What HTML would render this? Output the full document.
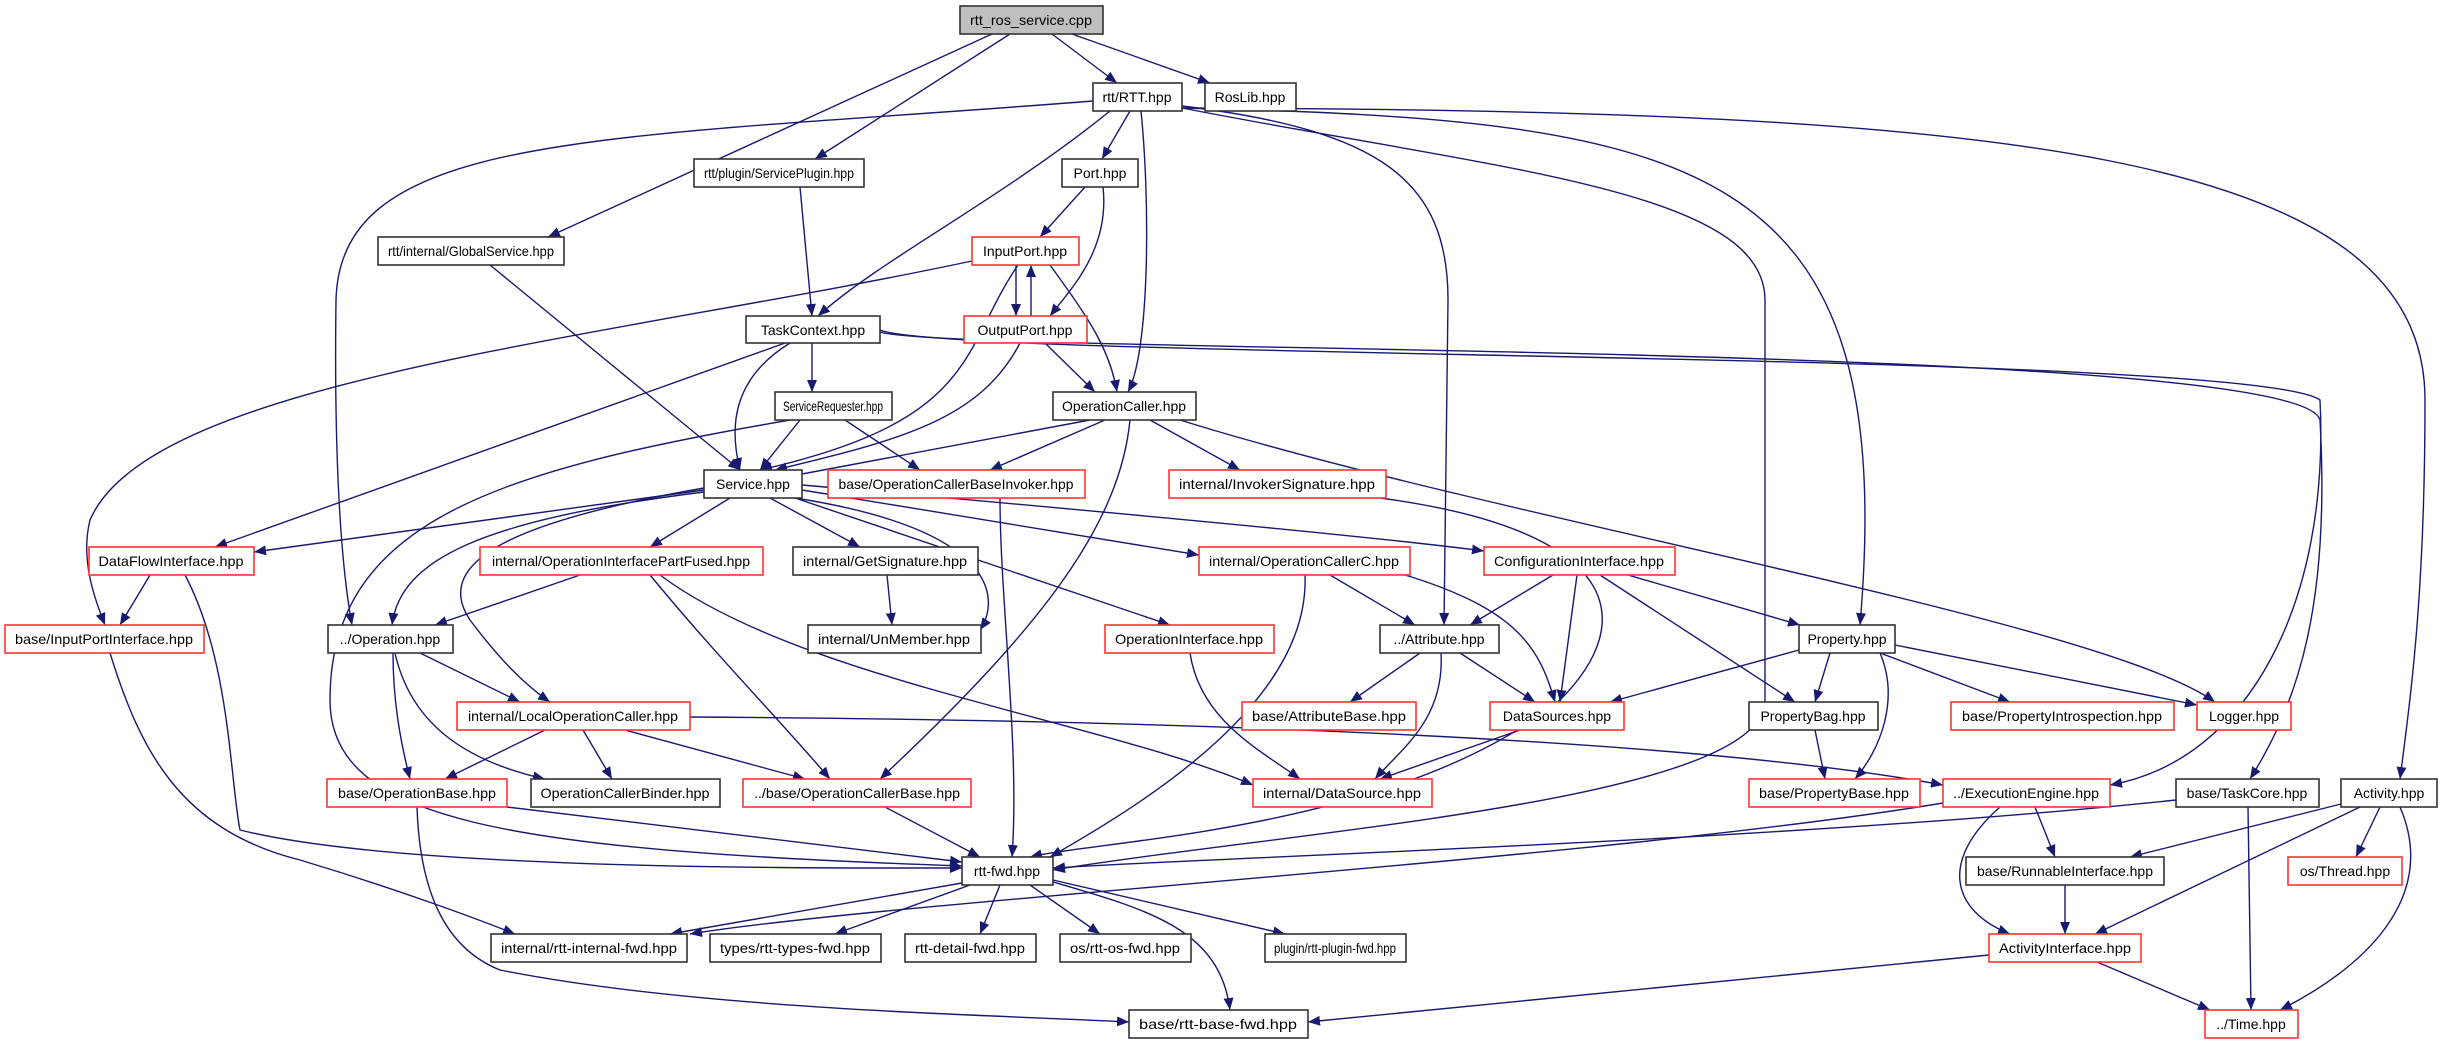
<!DOCTYPE html>
<html><head><meta charset="utf-8"><style>
html,body{margin:0;padding:0;background:#fff}
svg{display:block}
text{font-family:"Liberation Sans","DejaVu Sans",sans-serif;font-size:14px;fill:#000}
.e{fill:none;stroke:#191970;stroke-width:1.4}
.b{fill:#fff;stroke:#333;stroke-width:1.6}
.r{fill:#fff;stroke:#f33;stroke-width:1.6}
</style></head><body>
<svg width="2441" height="1045" viewBox="0 0 2441 1045" xmlns="http://www.w3.org/2000/svg">
<defs><marker id="a" markerUnits="userSpaceOnUse" markerWidth="12" markerHeight="10" refX="12" refY="5" orient="auto"><path d="M0,0 L12,5 L0,10 z" fill="#191970"/></marker></defs>
<g class="e" marker-end="url(#a)">
<path d="M992 34 L548 237"/>
<path d="M1010 34 L815 159"/>
<path d="M1052 34 L1117 83"/>
<path d="M1072 34 L1210 83"/>
<path d="M1093 101 C600 140 340 130 336 300 C334 450 340 560 352 625"/>
<path d="M1110 111 C1000 200 880 260 818 316"/>
<path d="M1130 111 L1102 159"/>
<path d="M1141 111 C1150 200 1150 350 1128 392"/>
<path d="M1182 106 C1380 130 1448 180 1448 300 L1444 625"/>
<path d="M1182 108 C1500 170 1765 190 1765 300 L1765 700 C1765 800 1300 830 1053 870"/>
<path d="M1182 108 C1700 120 1900 160 1860 625"/>
<path d="M1182 108 C2000 110 2425 150 2425 400 C2425 600 2410 700 2400 779"/>
<path d="M800 187 L812 316"/>
<path d="M490 265 L740 470"/>
<path d="M1085 187 L1040 237"/>
<path d="M1103 187 C1110 250 1070 290 1050 316"/>
<path d="M1016 265 L1016 316"/>
<path d="M1031 316 L1031 265"/>
<path d="M972 261 C600 340 150 380 90 520 C80 560 95 600 105 625"/>
<path d="M1018 265 C960 350 980 420 760 470"/>
<path d="M1050 265 C1090 320 1110 350 1117 392"/>
<path d="M1020 343 C980 420 900 440 775 470"/>
<path d="M1045 343 L1095 392"/>
<path d="M812 343 L812 392"/>
<path d="M790 343 C730 380 730 430 740 470"/>
<path d="M785 343 L215 547"/>
<path d="M880 330 C950 360 2250 350 2320 400 C2330 600 2250 760 2110 785"/>
<path d="M880 332 C950 355 2300 340 2320 420 C2330 600 2300 700 2250 779"/>
<path d="M800 420 L760 470"/>
<path d="M845 420 L920 470"/>
<path d="M790 420 C500 470 330 520 330 700 C330 820 500 850 962 866"/>
<path d="M1090 420 L770 480"/>
<path d="M1105 420 L990 470"/>
<path d="M1150 420 L1240 470"/>
<path d="M1130 420 C1120 520 1050 620 880 779"/>
<path d="M1180 420 C1500 520 2100 620 2215 702"/>
<path d="M1000 498 C1000 600 1020 750 1012 857"/>
<path d="M1380 498 C1620 530 1640 620 1560 700 C1400 830 1100 840 1030 857"/>
<path d="M704 490 L254 552"/>
<path d="M704 492 C480 520 400 560 392 625"/>
<path d="M704 488 C520 520 430 560 470 620 C500 660 525 685 550 702"/>
<path d="M730 498 L650 547"/>
<path d="M770 498 L860 547"/>
<path d="M795 498 C1000 530 1000 600 980 630"/>
<path d="M795 498 L1170 625"/>
<path d="M802 490 L1199 555"/>
<path d="M802 485 C1200 520 1400 540 1484 551"/>
<path d="M580 575 L435 625"/>
<path d="M650 575 C720 660 780 720 830 779"/>
<path d="M660 575 C800 680 1100 720 1253 785"/>
<path d="M887 575 L892 625"/>
<path d="M1330 575 L1415 625"/>
<path d="M1405 575 C1520 610 1540 650 1555 702"/>
<path d="M1305 575 C1310 700 1150 800 1050 857"/>
<path d="M1553 575 L1470 625"/>
<path d="M1577 575 L1560 702"/>
<path d="M1628 575 L1800 625"/>
<path d="M1600 575 L1795 702"/>
<path d="M150 575 L120 625"/>
<path d="M185 575 C230 660 230 780 240 830 C400 870 800 868 962 868"/>
<path d="M110 653 C140 750 180 830 300 860 C400 890 480 920 515 934"/>
<path d="M420 653 L520 702"/>
<path d="M393 653 C393 700 400 740 410 779"/>
<path d="M395 653 C410 720 460 760 545 779"/>
<path d="M1190 653 C1200 720 1260 750 1300 779"/>
<path d="M1420 653 L1350 702"/>
<path d="M1460 653 L1535 702"/>
<path d="M1441 653 C1445 720 1400 750 1375 779"/>
<path d="M1799 650 L1610 702"/>
<path d="M1830 653 L1815 702"/>
<path d="M1880 653 L2010 702"/>
<path d="M1895 645 L2197 705"/>
<path d="M1880 653 C1900 700 1880 750 1855 779"/>
<path d="M1520 730 L1380 779"/>
<path d="M1815 730 L1825 779"/>
<path d="M545 730 L445 779"/>
<path d="M583 730 L612 779"/>
<path d="M625 730 L805 779"/>
<path d="M690 717 C1200 720 1700 740 1943 785"/>
<path d="M507 807 L962 862"/>
<path d="M417 807 C420 900 450 950 500 970 C700 1010 1000 1015 1129 1022"/>
<path d="M885 807 L980 857"/>
<path d="M2035 807 L2055 857"/>
<path d="M2000 807 C1940 860 1950 910 2010 934"/>
<path d="M1943 803 C1600 860 900 900 690 934"/>
<path d="M2176 800 C1800 840 1200 858 1053 868"/>
<path d="M2248 807 L2251 1010"/>
<path d="M2341 804 L2130 857"/>
<path d="M2360 807 L2095 934"/>
<path d="M2380 807 L2356 857"/>
<path d="M2400 807 C2440 900 2360 970 2280 1010"/>
<path d="M2065 885 L2065 934"/>
<path d="M1989 955 L1308 1022"/>
<path d="M2097 962 L2210 1010"/>
<path d="M962 883 L670 934"/>
<path d="M970 885 L835 934"/>
<path d="M1000 885 L980 934"/>
<path d="M1030 885 L1100 934"/>
<path d="M1053 880 L1285 934"/>
<path d="M1053 882 C1150 910 1220 930 1230 1010"/>
</g>
<g text-anchor="middle">
<rect x="960" y="6" width="143" height="28" fill="#bfbfbf" stroke="#333" stroke-width="1.6"/><text x="1031" y="25" textLength="122" lengthAdjust="spacingAndGlyphs">rtt_ros_service.cpp</text>
<rect class="b" x="1093" y="83" width="89" height="28"/><text x="1137" y="102">rtt/RTT.hpp</text>
<rect class="b" x="1205" y="83" width="91" height="28"/><text x="1250" y="102">RosLib.hpp</text>
<rect class="b" x="694" y="159" width="170" height="28"/><text x="779" y="178" textLength="150" lengthAdjust="spacingAndGlyphs">rtt/plugin/ServicePlugin.hpp</text>
<rect class="b" x="1062" y="159" width="76" height="28"/><text x="1100" y="178">Port.hpp</text>
<rect class="b" x="378" y="237" width="186" height="28"/><text x="471" y="256" textLength="166" lengthAdjust="spacingAndGlyphs">rtt/internal/GlobalService.hpp</text>
<rect class="r" x="972" y="237" width="107" height="28"/><text x="1025" y="256">InputPort.hpp</text>
<rect class="b" x="746" y="316" width="134" height="27"/><text x="813" y="335">TaskContext.hpp</text>
<rect class="r" x="964" y="316" width="123" height="27"/><text x="1025" y="335">OutputPort.hpp</text>
<rect class="b" x="775" y="392" width="117" height="28"/><text x="833" y="411" textLength="100" lengthAdjust="spacingAndGlyphs">ServiceRequester.hpp</text>
<rect class="b" x="1053" y="392" width="143" height="28"/><text x="1124" y="411" textLength="124" lengthAdjust="spacingAndGlyphs">OperationCaller.hpp</text>
<rect class="b" x="704" y="470" width="98" height="28"/><text x="753" y="489">Service.hpp</text>
<rect class="r" x="828" y="470" width="257" height="28"/><text x="956" y="489" textLength="235" lengthAdjust="spacingAndGlyphs">base/OperationCallerBaseInvoker.hpp</text>
<rect class="r" x="1169" y="470" width="217" height="28"/><text x="1277" y="489" textLength="196" lengthAdjust="spacingAndGlyphs">internal/InvokerSignature.hpp</text>
<rect class="r" x="89" y="547" width="165" height="28"/><text x="171" y="566" textLength="145" lengthAdjust="spacingAndGlyphs">DataFlowInterface.hpp</text>
<rect class="r" x="480" y="547" width="283" height="28"/><text x="621" y="566" textLength="258" lengthAdjust="spacingAndGlyphs">internal/OperationInterfacePartFused.hpp</text>
<rect class="b" x="793" y="547" width="185" height="28"/><text x="885" y="566" textLength="164" lengthAdjust="spacingAndGlyphs">internal/GetSignature.hpp</text>
<rect class="r" x="1199" y="547" width="211" height="28"/><text x="1304" y="566" textLength="190" lengthAdjust="spacingAndGlyphs">internal/OperationCallerC.hpp</text>
<rect class="r" x="1484" y="547" width="191" height="28"/><text x="1579" y="566" textLength="170" lengthAdjust="spacingAndGlyphs">ConfigurationInterface.hpp</text>
<rect class="r" x="5" y="625" width="199" height="28"/><text x="104" y="644" textLength="178" lengthAdjust="spacingAndGlyphs">base/InputPortInterface.hpp</text>
<rect class="b" x="328" y="625" width="125" height="28"/><text x="390" y="644">../Operation.hpp</text>
<rect class="b" x="808" y="625" width="173" height="28"/><text x="894" y="644" textLength="152" lengthAdjust="spacingAndGlyphs">internal/UnMember.hpp</text>
<rect class="r" x="1105" y="625" width="169" height="28"/><text x="1189" y="644" textLength="148" lengthAdjust="spacingAndGlyphs">OperationInterface.hpp</text>
<rect class="b" x="1380" y="625" width="119" height="28"/><text x="1439" y="644">../Attribute.hpp</text>
<rect class="b" x="1799" y="625" width="96" height="28"/><text x="1847" y="644">Property.hpp</text>
<rect class="r" x="457" y="702" width="233" height="28"/><text x="573" y="721" textLength="210" lengthAdjust="spacingAndGlyphs">internal/LocalOperationCaller.hpp</text>
<rect class="r" x="1242" y="702" width="174" height="28"/><text x="1329" y="721" textLength="154" lengthAdjust="spacingAndGlyphs">base/AttributeBase.hpp</text>
<rect class="r" x="1490" y="702" width="134" height="28"/><text x="1557" y="721">DataSources.hpp</text>
<rect class="b" x="1749" y="702" width="129" height="28"/><text x="1813" y="721">PropertyBag.hpp</text>
<rect class="r" x="1951" y="702" width="223" height="28"/><text x="2062" y="721" textLength="200" lengthAdjust="spacingAndGlyphs">base/PropertyIntrospection.hpp</text>
<rect class="r" x="2197" y="702" width="94" height="28"/><text x="2244" y="721">Logger.hpp</text>
<rect class="r" x="327" y="779" width="180" height="28"/><text x="417" y="798" textLength="158" lengthAdjust="spacingAndGlyphs">base/OperationBase.hpp</text>
<rect class="b" x="531" y="779" width="189" height="28"/><text x="625" y="798" textLength="169" lengthAdjust="spacingAndGlyphs">OperationCallerBinder.hpp</text>
<rect class="r" x="743" y="779" width="228" height="28"/><text x="857" y="798" textLength="206" lengthAdjust="spacingAndGlyphs">../base/OperationCallerBase.hpp</text>
<rect class="r" x="1253" y="779" width="179" height="28"/><text x="1342" y="798" textLength="158" lengthAdjust="spacingAndGlyphs">internal/DataSource.hpp</text>
<rect class="r" x="1749" y="779" width="171" height="28"/><text x="1834" y="798" textLength="150" lengthAdjust="spacingAndGlyphs">base/PropertyBase.hpp</text>
<rect class="r" x="1943" y="779" width="167" height="28"/><text x="2026" y="798" textLength="146" lengthAdjust="spacingAndGlyphs">../ExecutionEngine.hpp</text>
<rect class="b" x="2176" y="779" width="143" height="28"/><text x="2247" y="798">base/TaskCore.hpp</text>
<rect class="b" x="2341" y="779" width="96" height="28"/><text x="2389" y="798">Activity.hpp</text>
<rect class="b" x="962" y="857" width="91" height="28"/><text x="1007" y="876">rtt-fwd.hpp</text>
<rect class="b" x="1966" y="857" width="198" height="28"/><text x="2065" y="876" textLength="176" lengthAdjust="spacingAndGlyphs">base/RunnableInterface.hpp</text>
<rect class="r" x="2288" y="857" width="114" height="28"/><text x="2345" y="876">os/Thread.hpp</text>
<rect class="b" x="491" y="934" width="196" height="28"/><text x="589" y="953" textLength="176" lengthAdjust="spacingAndGlyphs">internal/rtt-internal-fwd.hpp</text>
<rect class="b" x="710" y="934" width="171" height="28"/><text x="795" y="953" textLength="150" lengthAdjust="spacingAndGlyphs">types/rtt-types-fwd.hpp</text>
<rect class="b" x="905" y="934" width="131" height="28"/><text x="970" y="953" textLength="110" lengthAdjust="spacingAndGlyphs">rtt-detail-fwd.hpp</text>
<rect class="b" x="1060" y="934" width="131" height="28"/><text x="1125" y="953" textLength="110" lengthAdjust="spacingAndGlyphs">os/rtt-os-fwd.hpp</text>
<rect class="b" x="1265" y="934" width="141" height="28"/><text x="1335" y="953" textLength="122" lengthAdjust="spacingAndGlyphs">plugin/rtt-plugin-fwd.hpp</text>
<rect class="r" x="1989" y="934" width="152" height="28"/><text x="2065" y="953" textLength="132" lengthAdjust="spacingAndGlyphs">ActivityInterface.hpp</text>
<rect class="b" x="1129" y="1010" width="179" height="28"/><text x="1218" y="1029" textLength="158" lengthAdjust="spacingAndGlyphs">base/rtt-base-fwd.hpp</text>
<rect class="r" x="2205" y="1010" width="93" height="28"/><text x="2251" y="1029">../Time.hpp</text>
</g>
</svg>
</body></html>
